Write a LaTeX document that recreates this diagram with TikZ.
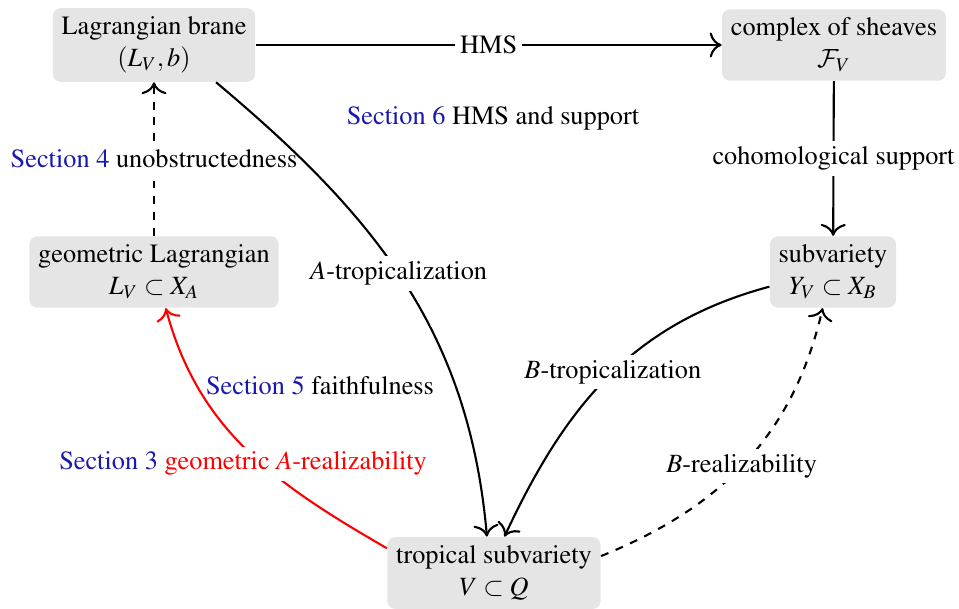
\documentclass[tikz,border=0pt]{standalone}
\usepackage[T1]{fontenc}
\usepackage{mathptmx}
\usetikzlibrary{arrows.meta}
\DeclareMathAlphabet{\mathcal}{OMS}{cmsy}{m}{n}
\definecolor{secblue}{rgb}{0.1,0.1,0.7}
\newcommand{\sect}[1]{\textcolor{secblue}{Section #1}}
\begin{document}
\begin{tikzpicture}[x=0.38pt,y=0.38pt,
  box/.style={fill=black!10, rounded corners=3pt, align=center},
  arr/.style={-{To[scale=1.35]}, line width=0.8pt},
  lbl/.style={fill=white, inner sep=2pt}]
\useasboundingbox (0,0) rectangle (959,608);
\node[box] (lb) at (154,563) {Lagrangian brane\\$(L_V,b)$};
\node[box] (cs) at (834,563) {complex of sheaves\\$\mathcal{F}_V$};
\node[box] (gl) at (154,336) {geometric Lagrangian\\$L_V\subset X_A$};
\node[box] (sv) at (833,336) {subvariety\\$Y_V\subset X_B$};
\node[box] (ts) at (494,35) {tropical subvariety\\$V\subset Q$};
\draw[arr] (lb) -- node[lbl]{HMS} (cs);
\draw[arr] (cs) -- node[lbl]{cohomological support} (sv);
\draw[arr,dashed] (gl) -- node[lbl]{\sect{4} unobstructedness} (lb);
\draw[arr] (lb.-31) to[out=-40,in=95] node[lbl,pos=0.48]{$A$-tropicalization} (ts.101);
\draw[arr] (sv.193) to[out=195,in=65] node[lbl,pos=0.48]{$B$-tropicalization} (ts.74);
\draw[arr,dashed] (ts.9) to[out=22,in=257] node[lbl,pos=0.48]{$B$-realizability} (sv.254);
\draw[arr,red] (ts.167) to[out=150,in=-75] node[lbl,pos=0.45,xshift=-6pt,yshift=-1pt]{\sect{3} geometric $A$-realizability} (gl.-72);
\node (s6) at (493,490) {\sect{6} HMS and support};
\node (s5) at (320,222) {\sect{5} faithfulness};
\end{tikzpicture}
\end{document}
